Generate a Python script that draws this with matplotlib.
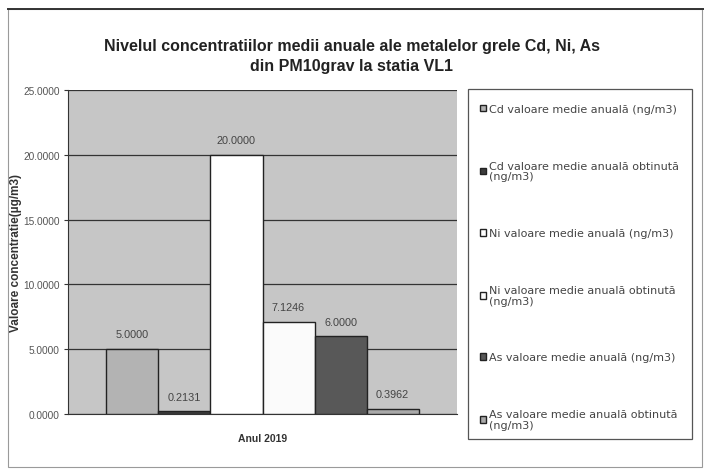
import matplotlib
matplotlib.use('Agg')
import matplotlib.pyplot as plt
from matplotlib.patches import Rectangle
import numpy as np

plt.rcParams['font.family'] = ['Liberation Sans', 'DejaVu Sans']

# date
serii = ['Cd valoare medie anuală (ng/m3)',
         'Cd valoare medie anuală obtinută\n(ng/m3)',
         'Ni valoare medie anuală (ng/m3)',
         'Ni valoare medie anuală obtinută\n(ng/m3)',
         'As valoare medie anuală (ng/m3)',
         'As valoare medie anuală obtinută\n(ng/m3)']
valori = [5.0, 0.2131, 20.0, 7.1246, 6.0, 0.3962]
culori = ['#b3b3b3', '#3c3c3c', '#ffffff', '#fbfbfb', '#585858', '#a9a9a9']
categorie = 'Anul 2019'
yticks = [0, 5, 10, 15, 20, 25]

fig = plt.figure(figsize=(7.04, 4.77), dpi=100)
fig.patch.set_facecolor('white')

# chenarul exterior
fig.add_artist(Rectangle((8/704, 1 - 468/477), 694/704, 458/477, transform=fig.transFigure,
                         fill=False, edgecolor='#9a9a9a', linewidth=0.8))
fig.add_artist(plt.Line2D([8/704, 1.0], [1 - 10/477, 1 - 10/477], transform=fig.transFigure,
                          color='#333333', linewidth=1.4))

fig.text(0.5, 1 - 46/477, 'Nivelul concentratiilor medii anuale ale metalelor grele Cd, Ni, As',
         ha='center', va='center', fontsize=11.5, fontweight='bold', color='#222222')
fig.text(0.5, 1 - 67/477, 'din PM10grav la statia VL1',
         ha='center', va='center', fontsize=11.5, fontweight='bold', color='#222222')

ax = fig.add_axes([68/704, 1 - 415/477, (457 - 68)/704, (415 - 91)/477])
ax.set_facecolor('#c6c6c6')

n = len(valori)
x = np.arange(n)
for i in range(n):
    ax.bar(x[i], valori[i], width=1.0, color=culori[i], edgecolor='#222222',
           linewidth=1.0, label=serii[i], zorder=3)
    ax.text(x[i], valori[i] + 0.75, '%.4f' % valori[i], ha='center', va='bottom',
            fontsize=7.8, color='#444444', zorder=4)

ax.set_xlim(-0.5 - 0.74, n - 0.5 + 0.74)
ax.set_ylim(0, 25)
ax.set_yticks(yticks)
ax.set_yticklabels(['%.4f' % v for v in yticks], fontsize=7.3, color='#555555')
ax.yaxis.grid(True, color='#333333', linewidth=0.9, zorder=1)
ax.set_xticks([(n - 1) / 2])
ax.set_xticklabels([categorie], fontsize=7.5, fontweight='bold', color='#333333')
ax.tick_params(axis='x', length=0, pad=14)
ax.tick_params(axis='y', length=3, color='#333333', pad=3)
for s in ['top', 'right']:
    ax.spines[s].set_visible(False)
ax.spines['left'].set_color('#333333')
ax.spines['bottom'].set_color('#333333')
ax.set_ylabel('Valoare concentratie(µg/m3)', fontsize=8.5, fontweight='bold', color='#333333')
ax.yaxis.set_label_coords(-0.117, 0.5)

# legenda
fig.add_artist(Rectangle((468/704, 1 - 440/477), (692 - 468)/704, (440 - 90)/477,
                         transform=fig.transFigure, fill=False, edgecolor='#555555', linewidth=0.9))
handles, labels = ax.get_legend_handles_labels()
leg = fig.legend(handles, labels, loc='upper left', bbox_to_anchor=(480/704, 1 - 105/477),
                 frameon=False, prop={'family': 'DejaVu Sans', 'size': 8},
                 labelspacing=4.2, handlelength=0.55, handleheight=0.55,
                 handletextpad=0.25, borderaxespad=0, borderpad=0)
for t in leg.get_texts():
    t.set_color('#444444')
    t.set_linespacing(1.1)

fig.savefig('out.png', dpi=100)
